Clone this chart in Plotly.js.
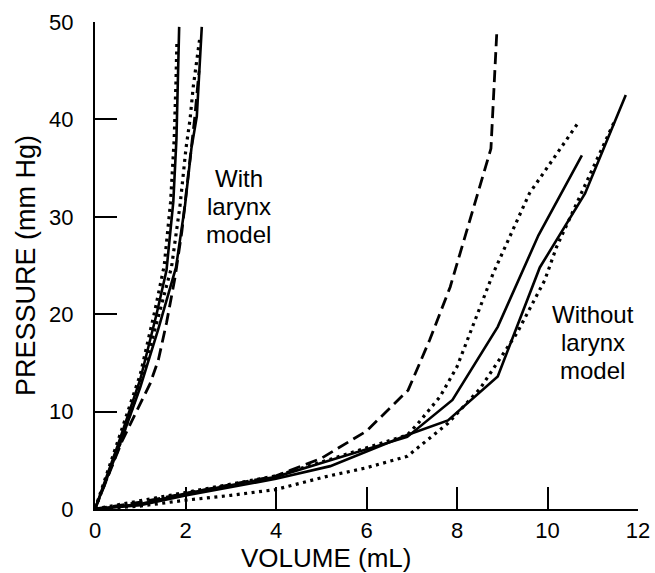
<!DOCTYPE html>
<html>
<head>
<meta charset="utf-8">
<script src="https://cdn.plot.ly/plotly-3.0.1.min.js"></script>
<style>html,body{margin:0;padding:0;background:#fff;}#chart{width:655px;height:573px;}</style>
</head>
<body>
<div id="chart"></div>
<script>
// ---- With larynx model ----
const withSolidA_x = [0, 0.5, 1.0, 1.36, 1.58, 1.73, 1.8, 1.84, 1.86];
const withSolidA_y = [0, 6.5, 13.3, 20.0, 24.5, 31.5, 38.0, 44.0, 49.5];
const withDotA_x = [0, 0.5, 1.0, 1.33, 1.53, 1.67, 1.75, 1.79, 1.81];
const withDotA_y = [0, 6.8, 13.8, 20.5, 25.0, 31.5, 38.0, 44.0, 48.0];
const withSolidB_x = [0, 0.5, 1.0, 1.4, 1.79, 1.99, 2.13, 2.25, 2.36];
const withSolidB_y = [0, 6.0, 12.5, 18.5, 24.8, 31.2, 37.0, 40.3, 49.5];
const withDotB_x = [0, 0.5, 1.0, 1.69, 1.88, 2.01, 2.1, 2.17, 2.32];
const withDotB_y = [0, 6.0, 12.8, 24.8, 31.2, 37.0, 40.0, 43.3, 48.5];
const withDash_x = [0, 0.6, 1.22, 1.4, 1.58, 1.77, 1.92, 2.03, 2.2, 2.3];
const withDash_y = [0, 7.0, 12.9, 15.3, 19.1, 23.8, 28.5, 33.0, 40.0, 45.0];

// ---- Without larynx model ----
const woSolidA_x = [0, 1, 2, 4, 5.2, 6.9, 7.9, 8.9, 9.8, 10.76];
const woSolidA_y = [0, 0.5, 1.6, 3.3, 5.0, 7.4, 11.2, 18.7, 28.1, 36.3];
const woSolidB_x = [0, 1, 2, 4, 5.2, 6.9, 7.8, 8.9, 9.83, 10.83, 11.73];
const woSolidB_y = [0, 0.4, 1.4, 3.1, 4.4, 7.6, 9.1, 13.6, 24.8, 32.4, 42.5];
const woDotA_x = [0, 2, 4, 5.2, 6.9, 7.14, 7.62, 8.0, 8.57, 8.8, 9.6, 10.67];
const woDotA_y = [0, 1.7, 3.4, 5.1, 7.6, 8.8, 11.5, 14.6, 21.5, 24.2, 32.4, 39.6];
const woDotB_x = [0, 1, 2, 3, 4, 5.08, 5.97, 6.9, 7.8, 8.5, 9.33, 9.94, 10.2, 11.3, 11.5];
const woDotB_y = [0, 0.3, 0.9, 1.4, 2.0, 3.3, 4.2, 5.4, 8.8, 12.3, 18.1, 23.5, 26.9, 37.9, 40.0];
const woDash_x = [0, 1, 2, 4, 5, 6, 6.92, 7.4, 7.85, 8.29, 8.75, 8.88];
const woDash_y = [0, 0.7, 1.6, 3.4, 5.2, 8.0, 12.2, 17.4, 22.8, 29.7, 37.0, 49.0];

const xTicks = [0, 2, 4, 6, 8, 10, 12];
const yTicks = [0, 10, 20, 30, 40, 50];
const xTitle = 'VOLUME (mL)';
const yTitle = 'PRESSURE (mm Hg)';
const labelWith = ['With', 'larynx', 'model'];
const labelWithout = ['Without', 'larynx', 'model'];

const SOLID = {color: '#000', width: 2.6, dash: 'solid'};
const DOT = {color: '#000', width: 3.2, dash: '3px,4.5px'};
const DASH = {color: '#000', width: 2.8, dash: '12px,6px'};

function tr(x, y, line) {
  return {x: x, y: y, type: 'scatter', mode: 'lines', line: line, showlegend: false, hoverinfo: 'x+y'};
}

const data = [
  tr(withSolidA_x, withSolidA_y, SOLID),
  tr(withDotA_x, withDotA_y, DOT),
  tr(withSolidB_x, withSolidB_y, SOLID),
  tr(withDotB_x, withDotB_y, DOT),
  tr(withDash_x, withDash_y, DASH),
  tr(woSolidA_x, woSolidA_y, SOLID),
  tr(woSolidB_x, woSolidB_y, SOLID),
  tr(woDotA_x, woDotA_y, DOT),
  tr(woDotB_x, woDotB_y, DOT),
  tr(woDash_x, woDash_y, DASH)
];

const FONT = 'Liberation Sans, Arial, Helvetica, sans-serif';
const annotations = [];
const withY = [33.9, 31.05, 28.2];
labelWith.forEach((t, i) => annotations.push({
  x: 3.18, y: withY[i], xref: 'x', yref: 'y', text: t, showarrow: false,
  xanchor: 'center', yanchor: 'middle', font: {family: FONT, size: 24, color: '#000'}
}));
const woY = [20.0, 17.1, 14.2];
labelWithout.forEach((t, i) => annotations.push({
  x: 11.0, y: woY[i], xref: 'x', yref: 'y', text: t, showarrow: false,
  xanchor: 'center', yanchor: 'middle', font: {family: FONT, size: 24, color: '#000'}
}));
annotations.push({
  x: 0, y: 0, xref: 'paper', yref: 'paper', text: xTitle, showarrow: false,
  xanchor: 'center', yanchor: 'middle', font: {family: FONT, size: 26, color: '#000'}
});

const layout = {
  width: 655, height: 573,
  margin: {l: 95, r: 17, t: 22, b: 64},
  paper_bgcolor: '#fff', plot_bgcolor: '#fff',
  font: {family: FONT, color: '#000'},
  showlegend: false,
  xaxis: {
    range: [0, 12], tickvals: xTicks, ticktext: xTicks.map(String),
    ticks: 'inside', ticklen: 22, tickwidth: 2, tickcolor: '#000',
    showline: true, linecolor: '#000', linewidth: 2.2, mirror: false,
    showgrid: false, zeroline: false, ticklabelstandoff: 0,
    tickfont: {family: FONT, size: 22, color: '#000'}
  },
  yaxis: {
    range: [0, 50], tickvals: yTicks, ticktext: yTicks.map(String),
    ticks: 'inside', ticklen: 22, tickwidth: 2, tickcolor: '#000',
    showline: true, linecolor: '#000', linewidth: 2.2, mirror: false,
    showgrid: false, zeroline: false, ticklabelstandoff: 15,
    tickfont: {family: FONT, size: 22, color: '#000'},
    title: {text: yTitle, font: {family: FONT, size: 27, color: '#000'}, standoff: 6}
  },
  annotations: annotations
};
// place x-title at its pixel position, converted to paper coordinates
const pw = 655 - 95 - 17, ph = 573 - 22 - 64;
const last = annotations[annotations.length - 1];
last.x = (326 - 95) / pw;
last.y = (573 - 64 - 558) / ph;

Plotly.newPlot('chart', data, layout, {displayModeBar: false, staticPlot: true});
</script>
</body>
</html>
